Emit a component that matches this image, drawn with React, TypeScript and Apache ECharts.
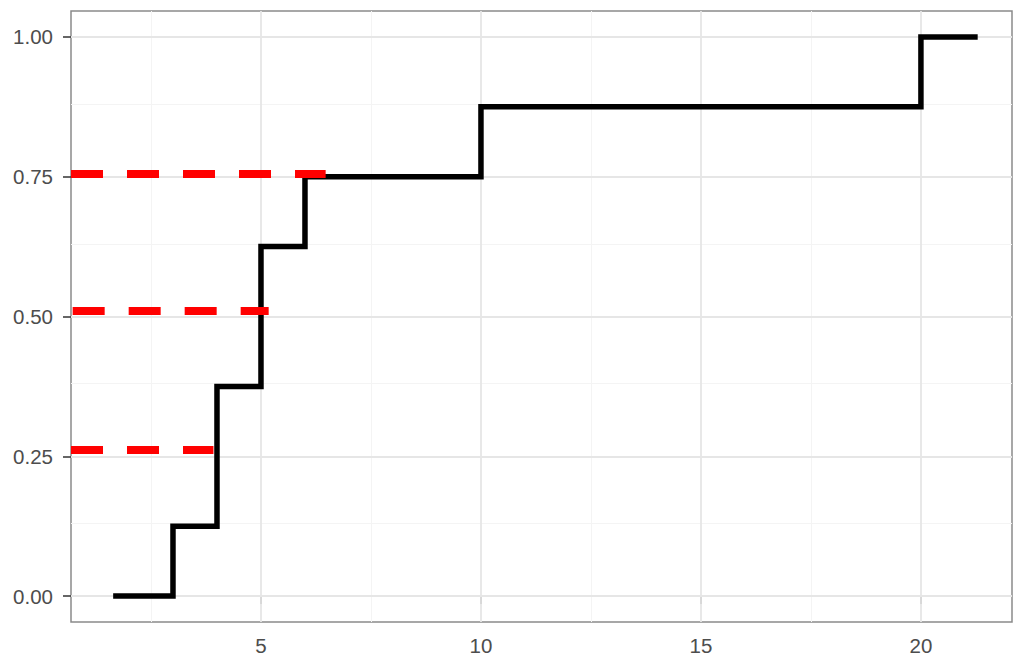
import React, { useEffect, useRef } from "react";
import * as echarts from "echarts";

// Empirical CDF of the sample (step positions and cumulative proportions)
const ecdfX = [1.64, 3, 4, 5, 6, 10, 20, 21.29];
const ecdfY = [0, 0.125, 0.375, 0.625, 0.75, 0.875, 1, 1];

// Horizontal reference levels (dashed red) with their start/end x
const refLevels = [0.2612, 0.5098, 0.7549];
const refStartX = [0.682, 0.72, 0.682];
const refEndX = [3.92, 5.175, 6.47];

// Axis ticks and grid lines
const xTicks = [5, 10, 15, 20];
const yTicks = [0, 0.25, 0.5, 0.75, 1];
const xMinor = [2.5, 7.5, 12.5, 17.5];
const yMinor = [0.125, 0.375, 0.625, 0.875];

const X_MIN = 0.682;
const X_MAX = 22.07;
const Y_MIN = -0.0465;
const Y_MAX = 1.0465;

const FONT = "'Liberation Sans', Arial, sans-serif";

export default function App() {
  const ref = useRef<HTMLDivElement>(null);

  useEffect(() => {
    if (!ref.current) return;
    const chart = echarts.init(ref.current, null, { renderer: "svg" });

    const gridLineSeries = (xs: number[], ys: number[], color: string, width: number, z: number) => ({
      type: "line",
      data: [],
      z,
      silent: true,
      markLine: {
        z,
        silent: true,
        symbol: ["none", "none"],
        label: { show: false },
        emphasis: { disabled: true },
        lineStyle: { color, width, type: "solid" },
        data: [
          ...xs.map((v) => ({ xAxis: v })),
          ...ys.map((v) => ({ yAxis: v })),
        ],
      },
    });

    const stepData = ecdfX.map((x, i) => [x, ecdfY[i]]);

    const refSeries = refLevels.map((y, i) => ({
      type: "line",
      z: 12,
      symbol: "none",
      silent: true,
      data: [
        [refStartX[i], y],
        [refEndX[i], y],
      ],
      lineStyle: { color: "#ff0000", width: 8, type: [32, 24], cap: "butt" },
    }));

    chart.setOption({
      animation: false,
      backgroundColor: "#ffffff",
      grid: {
        left: 71,
        right: 1,
        top: 11,
        bottom: 34,
        show: true,
        borderColor: "#8a8a8a",
        borderWidth: 1.5,
        backgroundColor: "transparent",
      },
      xAxis: {
        type: "value",
        min: X_MIN,
        max: X_MAX,
        axisLine: { show: false },
        splitLine: { show: false },
        axisTick: {
          show: true,
          customValues: xTicks,
          length: 8,
          lineStyle: { color: "#333333", width: 1.5 },
        },
        axisLabel: {
          customValues: xTicks,
          fontSize: 20.5,
          color: "#4d4d4d",
          fontFamily: FONT,
          margin: 13,
        },
      },
      yAxis: {
        type: "value",
        min: Y_MIN,
        max: Y_MAX,
        axisLine: { show: false },
        splitLine: { show: false },
        axisTick: {
          show: true,
          customValues: yTicks,
          length: 8,
          lineStyle: { color: "#333333", width: 1.5 },
        },
        axisLabel: {
          customValues: yTicks,
          fontSize: 20.5,
          color: "#4d4d4d",
          fontFamily: FONT,
          margin: 18,
          formatter: (v: number) => v.toFixed(2),
        },
      },
      series: [
        gridLineSeries(xMinor, yMinor, "#f4f4f4", 1, 1),
        gridLineSeries(xTicks, yTicks, "#e6e6e6", 1.8, 2),
        {
          type: "line",
          z: 10,
          symbol: "none",
          silent: true,
          step: "end",
          data: stepData,
          lineStyle: { color: "#000000", width: 5.5, cap: "butt", join: "miter" },
        },
        ...refSeries,
      ],
    });

    return () => chart.dispose();
  }, []);

  return (
    <div
      ref={ref}
      style={{ position: "fixed", left: 0, top: 0, width: 1013, height: 656 }}
    />
  );
}
